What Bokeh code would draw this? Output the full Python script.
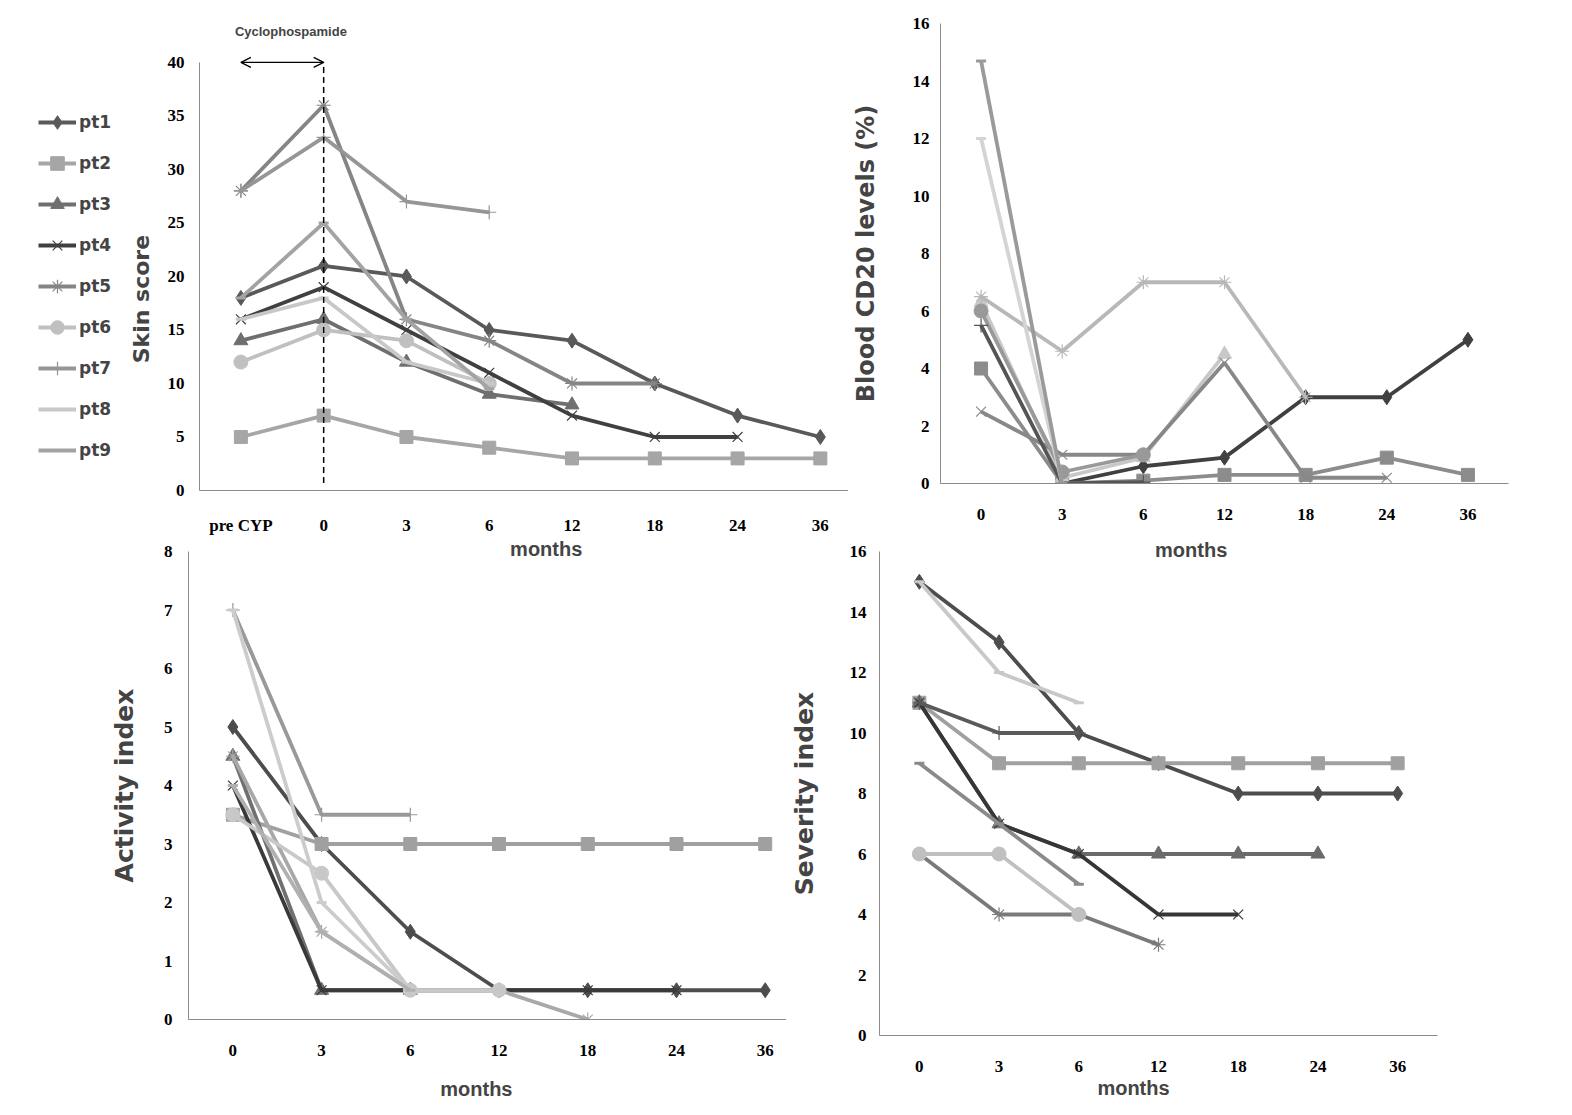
import math
from bokeh.plotting import figure
from bokeh.models import (Range1d, FixedTicker, Legend, LegendItem, Label, Arrow,
                          OpenHead)
from bokeh.layouts import column, row
from bokeh.embed import file_html
from bokeh.resources import INLINE

# ---------------- data ----------------
patients = ["pt1", "pt2", "pt3", "pt4", "pt5", "pt6", "pt7", "pt8", "pt9"]
skin_months = ["pre CYP", "0", "3", "6", "12", "18", "24", "36"]
months = ["0", "3", "6", "12", "18", "24", "36"]

skin_pt1 = [18, 21, 20, 15, 14, 10, 7, 5]
skin_pt2 = [5, 7, 5, 4, 3, 3, 3, 3]
skin_pt3 = [14, 16, 12, 9, 8, None, None, None]
skin_pt4 = [16, 19, 15, 11, 7, 5, 5, None]
skin_pt5 = [28, 36, 16, 14, 10, 10, None, None]
skin_pt6 = [12, 15, 14, 10, None, None, None, None]
skin_pt7 = [28, 33, 27, 26, None, None, None, None]
skin_pt8 = [16, 18, 12, 10, None, None, None, None]
skin_pt9 = [18, 25, 16, 9.5, None, None, None, None]

cd20_pt1 = [None, 0.0, 0.6, 0.9, 3.0, 3.0, 5.0]
cd20_pt2 = [4.0, 0.0, 0.1, 0.3, 0.3, 0.9, 0.3]
cd20_pt3 = [6.3, 0.2, 0.9, 4.5, None, None, None]
cd20_pt4 = [2.5, 1.0, 1.0, 4.2, 0.2, 0.2, None]
cd20_pt5 = [6.5, 4.6, 7.0, 7.0, 3.0, None, None]
cd20_pt6 = [6.0, 0.4, 1.0, None, None, None, None]
cd20_pt7 = [5.5, 0.0, 0.05, None, None, None, None]
cd20_pt8 = [12.0, 0.0, None, None, None, None, None]
cd20_pt9 = [14.7, 0.0, None, None, None, None, None]

act_pt1 = [5, 3, 1.5, 0.5, 0.5, 0.5, 0.5]
act_pt2 = [3.5, 3, 3, 3, 3, 3, 3]
act_pt3 = [4.5, 0.5, 0.5, None, None, None, None]
act_pt4 = [4, 0.5, 0.5, 0.5, 0.5, 0.5, None]
act_pt5 = [4.5, 1.5, 0.5, 0.5, 0, None, None]
act_pt6 = [3.5, 2.5, 0.5, 0.5, None, None, None]
act_pt7 = [7, 3.5, 3.5, None, None, None, None]
act_pt8 = [7, 2, 0.5, None, None, None, None]
act_pt9 = [4, 1.5, 0.5, None, None, None, None]

sev_pt1 = [15, 13, 10, 9, 8, 8, 8]
sev_pt2 = [11, 9, 9, 9, 9, 9, 9]
sev_pt3 = [11, 7, 6, 6, 6, 6, None]
sev_pt4 = [11, 7, 6, 4, 4, None, None]
sev_pt5 = [6, 4, 4, 3, None, None, None]
sev_pt6 = [6, 6, 4, None, None, None, None]
sev_pt7 = [11, 10, 10, None, None, None, None]
sev_pt8 = [15, 12, 11, None, None, None, None]
sev_pt9 = [9, 7, 5, None, None, None, None]

cyp_label = "Cyclophospamide"
cyp_start = "pre CYP"
cyp_end = "0"

skin_series = [skin_pt1, skin_pt2, skin_pt3, skin_pt4, skin_pt5, skin_pt6, skin_pt7, skin_pt8, skin_pt9]

# ---------------- styles ----------------
markers = ["diamond", "square", "triangle", "x", "asterisk", "circle", "cross", "dash", "dash"]
marker_sizes = [15, 13, 14, 14, 14, 14, 14, 10, 10]
skin_colors = ["#595959", "#a6a6a6", "#6f6f6f", "#404040", "#858585", "#c0c0c0", "#969696", "#c8c8c8", "#a3a3a3"]
cd20_colors = ["#404040", "#8c8c8c", "#c8c8c8", "#888888", "#b8b8b8", "#999999", "#555555", "#d4d4d4", "#9a9a9a"]
act_colors = ["#4d4d4d", "#a0a0a0", "#707070", "#3a3a3a", "#a8a8a8", "#c8c8c8", "#999999", "#cccccc", "#b0b0b0"]
sev_colors = ["#4d4d4d", "#a0a0a0", "#6a6a6a", "#363636", "#7a7a7a", "#c0c0c0", "#5a5a5a", "#c8c8c8", "#8a8a8a"]

TICK_FONT = "Liberation Serif"
TITLE_FONT = "DejaVu Sans"
MONTH_FONT = "Liberation Sans"
LINE_W = 3.8
NB = "\u00a0"


def draw_series(p, name, vals, mk, ms, col):
    xs = [i for i, v in enumerate(vals) if v is not None]
    ys = [v for v in vals if v is not None]
    ln = p.line(xs, ys, line_color=col, line_width=LINE_W)
    if mk in ("x", "asterisk", "cross", "dash"):
        sc = p.scatter(xs, ys, marker=mk, size=ms, line_color=col,
                       line_width=1.2 if mk != "dash" else 3)
    else:
        sc = p.scatter(xs, ys, marker=mk, size=ms, fill_color=col, line_color=col)
    return LegendItem(label=name, renderers=[ln, sc])


def make_panel(cats, series, colors, ymax, ytop, ystep, x_end, width, height,
               mb_left, mb_right, mb_top, mb_bottom, ylabel, ytitle_size,
               ylab_standoff, ytitle_standoff, xlabel, xtitle_standoff):
    p = figure(width=width, height=height, output_backend="svg", toolbar_location=None,
               x_range=Range1d(-0.5, x_end), y_range=Range1d(0, ytop),
               min_border_left=mb_left, min_border_right=mb_right,
               min_border_top=mb_top, min_border_bottom=mb_bottom)
    p.outline_line_color = None
    p.xgrid.visible = False
    p.ygrid.visible = False
    p.background_fill_alpha = 0
    p.border_fill_alpha = 0

    p.xaxis.ticker = FixedTicker(ticks=list(range(len(cats))))
    p.xaxis.major_label_overrides = {i: c for i, c in enumerate(cats)}
    p.yaxis.ticker = FixedTicker(ticks=[k * ystep for k in range(int(round(ymax / ystep)) + 1)])
    p.yaxis.bounds = (0, ymax)
    for ax in (p.xaxis[0], p.yaxis[0]):
        ax.axis_line_color = "#8a8a8a"
        ax.axis_line_width = 1
        ax.major_tick_line_color = None
        ax.minor_tick_line_color = None
        ax.major_tick_out = 0
        ax.major_tick_in = 0
        ax.major_label_text_font = TICK_FONT
        ax.major_label_text_font_style = "bold"
        ax.major_label_text_font_size = "17px"
        ax.major_label_text_color = "#000000"
    p.xaxis.major_label_standoff = 25
    p.yaxis.major_label_standoff = ylab_standoff
    p.xaxis.axis_label = xlabel
    p.xaxis.axis_label_text_font = MONTH_FONT
    p.xaxis.axis_label_text_font_style = "bold"
    p.xaxis.axis_label_text_font_size = "20px"
    p.xaxis.axis_label_standoff = xtitle_standoff
    p.yaxis.axis_label = ylabel
    p.yaxis.axis_label_text_font = TITLE_FONT
    p.yaxis.axis_label_text_font_style = "bold"
    p.yaxis.axis_label_text_font_size = ytitle_size
    p.yaxis.axis_label_standoff = ytitle_standoff

    for name, vals, mk, ms, col in zip(patients, series, markers, marker_sizes, colors):
        if any(v is not None for v in vals):
            draw_series(p, name, vals, mk, ms, col)
    return p


TOP_H = 566
BOT_Y = 541
BOT_H = 570
LEG_W = 125

# legend column (left of the skin-score panel); its ranges keep the proxy marks out of view
pleg = figure(width=LEG_W, height=TOP_H, output_backend="svg", toolbar_location=None,
              x_range=Range1d(-100, -99), y_range=Range1d(-100, -99),
              min_border_left=0, min_border_right=0, min_border_top=0, min_border_bottom=0)
pleg.axis.visible = False
pleg.grid.visible = False
pleg.outline_line_color = None
pleg.background_fill_alpha = 0
pleg.border_fill_alpha = 0
leg_items = [draw_series(pleg, name, vals, mk, ms, col)
             for name, vals, mk, ms, col in zip(patients, skin_series, markers, marker_sizes, skin_colors)]
legend = Legend(items=leg_items, location=(38, 99), orientation="vertical",
                glyph_width=38, glyph_height=34, spacing=7, label_standoff=3,
                label_height=20,
                label_text_font=TITLE_FONT, label_text_font_style="bold",
                label_text_font_size="17px", border_line_color=None,
                background_fill_alpha=0, padding=2, margin=0)
pleg.add_layout(legend, "center")

# top-left: skin score (frame 23..490, 40 at y=62)
p1 = make_panel(skin_months, skin_series,
                skin_colors, 40, 43.64, 5, 7.34, 848 - LEG_W, TOP_H,
                197 - LEG_W, 0, 23, TOP_H - 490, "Skin score" + NB * 11, "22px", 15, 11,
                NB * 8 + "months", 0)
x0 = skin_months.index(cyp_start)
x1 = skin_months.index(cyp_end)
p1.segment(x0=[x1], y0=[0.7], x1=[x1], y1=[40], line_color="black",
           line_dash="6 4", line_width=1.5)
p1.add_layout(Arrow(x_start=x0, x_end=x1, y_start=40, y_end=40, line_width=1.3,
                    start=OpenHead(size=10, line_width=1.3),
                    end=OpenHead(size=10, line_width=1.3)))
p1.add_layout(Label(x=x0, y=40, x_offset=-6, y_offset=31, text=cyp_label,
                    text_font=MONTH_FONT, text_font_style="bold", text_font_size="13px",
                    text_baseline="middle", text_align="left"))

# top-right: CD20
p2 = make_panel(months,
                [cd20_pt1, cd20_pt2, cd20_pt3, cd20_pt4, cd20_pt5, cd20_pt6, cd20_pt7, cd20_pt8, cd20_pt9],
                cd20_colors, 16, 16, 2, 6.5, 1556 - 848, TOP_H,
                940 - 848, 1556 - 1508, 23, TOP_H - 483, "Blood CD20 levels (%)", "24px", 11, 30,
                "months" + NB * 12, 16)

# bottom-left: activity index
p3 = make_panel(months,
                [act_pt1, act_pt2, act_pt3, act_pt4, act_pt5, act_pt6, act_pt7, act_pt8, act_pt9],
                act_colors, 8, 8, 1, 6.24, 786, BOT_H,
                188, 0, 551 - BOT_Y, BOT_Y + BOT_H - 1019, "Activity index", "25px", 16, 22,
                "months" + NB * 4, 19)

# bottom-right: severity index
p4 = make_panel(months,
                [sev_pt1, sev_pt2, sev_pt3, sev_pt4, sev_pt5, sev_pt6, sev_pt7, sev_pt8, sev_pt9],
                sev_colors, 16, 16, 2, 6.5, 1556 - 786, BOT_H,
                878 - 786, 1556 - 1437, 551 - BOT_Y, BOT_Y + BOT_H - 1035, "Severity index", "25px", 13, 28,
                "months" + NB * 9, 2)

top = row(column(pleg), column(p1), column(p2))
bottom = row(column(p3), column(p4))
bottom.margin = (BOT_Y - TOP_H, 0, 0, 0)
layout = column(top, bottom)

open("out.html", "w").write(file_html(layout, INLINE))
